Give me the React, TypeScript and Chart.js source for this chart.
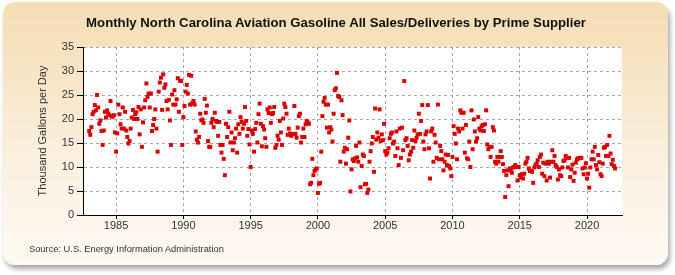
import { useEffect, useRef } from "react";
import { Chart, registerables } from "chart.js";

Chart.register(...registerables);

const startYear = 1983;

const values1983to1989 = [
  17.5, 16.7, 18.3, 21, 21.5, 22.9, 21.8, 25, 22.4, 19, 19.7, 17.5,
  14.6, 17.6, 21.5, 20.3, 21.8, 21.1, 20.8, 23.75, 20.5, 20.5, 20.8, 17.2,
  13.2, 17, 23, 21, 18.9, 18, 22.4, 18, 21.5, 17.6, 16.25, 14.9,
  15.4, 18, 20.3, 21.9, 20, 21, 21.4, 20, 22.5, 16.8, 22, 14.2,
  19.3, 22.4, 23.9, 27.4, 24.6, 25.3, 22.4, 25.3, 17.5, 18.75, 20, 22,
  18, 13.2, 25.7, 27.6, 28.6, 21.9, 29.3, 26.5, 27.2, 23.75, 22, 24,
  19.7, 14.6, 25.1, 23, 26, 23, 24.1, 28.5, 21.5, 28, 27.9, 14.6,
];

const values1990to1999 = [
  20.4, 22.7, 25.7, 27.1, 25.3, 29.2, 23, 29, 23.3, 23.75, 23, 17.4,
  15.7, 15.1, 16.25, 21.1, 19.7, 19.9, 19.2, 24.2, 21.3, 22.8, 15.4, 14.2,
  14.2, 19.2, 20, 18.3, 21.3, 19.6, 19.4, 16.5, 19.4, 14.6, 13, 14.6,
  11.7, 8.3, 19, 16.25, 18.3, 21.5, 15.1, 17.2, 13.5, 15.1, 16, 18,
  13, 18.9, 16.9, 20.4, 19.4, 18, 19, 22.5, 19.6, 16.5, 17.9, 14.7,
  10, 17.6, 16.9, 13.2, 17.9, 19.2, 15.1, 21, 23.2, 19, 14.3, 18.5,
  17.8, 16, 14.2, 22, 21.25, 22.4, 19.2, 21, 21.25, 22.5, 14, 14.6,
  16.5, 15.7, 19.6, 17.2, 14.6, 20.1, 23.2, 22.5, 21.1, 16.7, 18, 17,
  16.5, 16.8, 16.9, 22.7, 16.9, 16.1, 18.2, 20.6, 21.1, 15.1, 16.25, 18,
  16.25, 18.9, 19.6, 19.3, 19, 6.4, 6.7, 11.7, 8.3, 9.2, 9.5, 9.7,
];

const values2000to2009 = [
  4.6, 6.5, 6.7, 13.2, 20.6, 23.6, 24.4, 23, 18.2, 23, 17.2, 18.3,
  17.8, 15.3, 21.1, 26, 26.4, 29.6, 24.8, 24.6, 11.1, 23.9, 20.8, 13.2,
  14, 10.7, 13.7, 16.1, 19.7, 4.9, 9.5, 11.6, 11.25, 11.8, 14.4, 12,
  11.1, 15.1, 5.8, 10.2, 12.6, 12.3, 6.4, 6.5, 4.6, 5.3, 11.1, 13.3,
  14.9, 16.25, 9, 22.2, 15.7, 17.2, 16.1, 22, 15.4, 16.8, 15.6, 19,
  13.3, 12.6, 13, 13.9, 16, 16.9, 17.2, 14.9, 15.3, 12.3, 17.4, 13.9,
  10.4, 18, 11.9, 18.2, 13.5, 27.9, 15.6, 16, 14.4, 11.4, 12.6, 13.2,
  15.6, 14, 17.6, 15.4, 16.1, 16.8, 21.1, 16.9, 19.6, 22.9, 15.3, 13.7,
  16.8, 17.4, 22.9, 13.9, 7.6, 17.4, 18, 11.1, 16.7, 15.1, 11.9, 23,
  11.6, 14.4, 13.3, 11.6, 9.3, 11.1, 12.6, 10.4, 12.5, 10.2, 9.7, 8.1,
];

const values2010to2019 = [
  12.1, 18.5, 16.9, 14.9, 11.6, 18, 17.4, 21.8, 21.3, 18, 21.3, 13,
  18.75, 11.8, 11.6, 15.3, 10, 21.8, 13.7, 19.9, 17.4, 15.3, 16, 20.4,
  18, 17.6, 18.5, 18.75, 17.5, 18.9, 21.8, 14.7, 13.7, 14.2, 12.1, 14.2,
  18.3, 17.6, 11.1, 10.7, 12.1, 11.1, 12.1, 13.3, 12.1, 10.6, 9.2, 3.75,
  8.3, 9.3, 6, 9.7, 9.3, 8.8, 9.9, 10, 10.4, 10, 7.2, 10,
  8.3, 7.8, 8.5, 7.6, 8.6, 10.7, 11.1, 11.9, 9.7, 9.2, 9.2, 9,
  6.7, 9.9, 10.4, 10.7, 11.4, 10, 12.1, 12.6, 8.6, 10.9, 8.1, 10.7,
  7.2, 11.1, 10.7, 7.8, 11.1, 13.5, 11.1, 12.3, 10.4, 10, 7.4, 9.5,
  8.3, 8.1, 9.9, 11.25, 11.4, 12.3, 11.9, 9.9, 11.9, 7.9, 9.5, 10.5,
  7.1, 8.8, 10.9, 11.6, 11.8, 11.8, 11.9, 11.9, 9.7, 8.5, 9.9, 10.8,
];

const values2020to2022 = [
  7.6, 8.6, 5.7, 9.9, 11.6, 13.2, 11.6, 14.2, 10.4, 9.5, 12.5, 11,
  8.5, 8.1, 10.7, 14, 14.2, 12.3, 14.6, 12.3, 16.5, 12.8, 10.6, 11.5,
  10.2, 9.7,
];

const xTicks = [1985, 1990, 1995, 2000, 2005, 2010, 2015, 2020];
const yTicks = [0, 5, 10, 15, 20, 25, 30, 35];

const titleText =
  "Monthly North Carolina Aviation Gasoline All Sales/Deliveries by Prime Supplier";
const yAxisTitle = "Thousand Gallons per Day";
const sourceText = "Source: U.S. Energy Information Administration";

const whiteArea = {
  id: "whiteArea",
  beforeDraw(chart: any) {
    const { ctx, chartArea } = chart;
    ctx.save();
    ctx.fillStyle = "#ffffff";
    ctx.fillRect(
      chartArea.left,
      chartArea.top,
      chartArea.right - chartArea.left,
      chartArea.bottom - chartArea.top
    );
    ctx.restore();
  },
};

export default function App() {
  const ref = useRef<HTMLCanvasElement>(null);

  useEffect(() => {
    document.body.style.margin = "0";
    const all = [
      ...values1983to1989,
      ...values1990to1999,
      ...values2000to2009,
      ...values2010to2019,
      ...values2020to2022,
    ];
    const points = all.map((v, i) => ({ x: startYear + i / 12, y: v }));
    const font = { family: "'Liberation Sans', Arial, sans-serif", size: 11 };
    const chart = new Chart(ref.current as HTMLCanvasElement, {
      type: "scatter",
      data: {
        datasets: [
          {
            data: points,
            pointStyle: "rect",
            pointRadius: 2.8,
            pointHoverRadius: 2.8,
            backgroundColor: "#DA0000",
            borderColor: "#DA0000",
            borderWidth: 0,
          },
        ],
      },
      options: {
        animation: false,
        responsive: false,
        devicePixelRatio: 1,
        layout: { padding: { left: 32, top: 47, right: 53, bottom: 0 } },
        plugins: {
          legend: { display: false },
          tooltip: { enabled: false },
          title: { display: false },
        },
        scales: {
          x: {
            type: "linear",
            min: 1982.54,
            max: 2022.6,
            afterBuildTicks: (s: any) => {
              s.ticks = xTicks.map((v) => ({ value: v }));
            },
            afterFit: (s: any) => {
              s.height = 60;
            },
            grid: {
              color: "#a8a8a8",
              tickColor: "#000",
              tickLength: 4,
              lineWidth: 1,
            },
            border: { display: true, color: "#000", width: 1, dash: [3, 3] },
            ticks: {
              font,
              color: "#333",
              padding: 0,
              maxRotation: 0,
              autoSkip: false,
              callback: (v: any) => String(v),
            },
          },
          y: {
            min: 0,
            max: 35,
            afterBuildTicks: (s: any) => {
              s.ticks = yTicks.map((v) => ({ value: v }));
            },
            afterFit: (s: any) => {
              s.width = 51;
            },
            grid: {
              color: "#a8a8a8",
              tickColor: "#000",
              tickLength: 6,
              lineWidth: 1,
            },
            border: { display: true, color: "#000", width: 1, dash: [3, 3] },
            ticks: { font, color: "#333", padding: 3 },
            title: {
              display: true,
              text: yAxisTitle,
              font,
              color: "#333",
              padding: { top: 4, bottom: 4 },
            },
          },
        },
      },
      plugins: [whiteArea],
    });
    return () => chart.destroy();
  }, []);

  return (
    <div style={{ position: "relative", width: 675, height: 275, overflow: "hidden" }}>
      <div
        style={{
          position: "absolute",
          left: 3,
          top: 2,
          width: 665,
          height: 263,
          borderRadius: 12,
          background:
            "linear-gradient(to bottom, #F5DDB4 0%, #F8E7CB 35%, #FCF3E6 70%, #FEF9F1 100%)",
          boxShadow: "2px 4px 5px rgba(0,0,0,0.35)",
        }}
      />
      <canvas
        ref={ref}
        width={675}
        height={275}
        style={{ position: "absolute", left: 0, top: 0, width: 675, height: 275 }}
      />
      <div
        style={{
          position: "absolute",
          left: 0,
          width: 672,
          top: 16,
          textAlign: "center",
          fontFamily: "'Liberation Sans', Arial, sans-serif",
          fontWeight: "bold",
          fontSize: 13.2,
          lineHeight: "14px",
          color: "#111",
          whiteSpace: "nowrap",
        }}
      >
        {titleText}
      </div>
      <div
        style={{
          position: "absolute",
          left: 29,
          top: 243,
          fontFamily: "'Liberation Sans', Arial, sans-serif",
          fontSize: 9.3,
          lineHeight: "12px",
          color: "#333",
          whiteSpace: "nowrap",
        }}
      >
        {sourceText}
      </div>
    </div>
  );
}
